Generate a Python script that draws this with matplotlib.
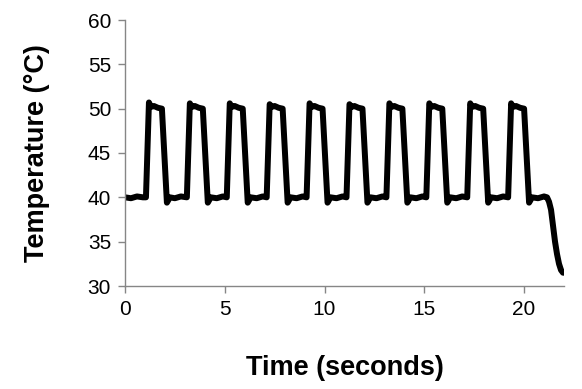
import matplotlib.pyplot as plt

plt.rcParams['font.family'] = ['Liberation Sans', 'DejaVu Sans']

# temperature trace (seconds, deg C)
time_s = [
    0.0, 0.3, 0.6, 0.9, 1.05,
    1.2, 1.3, 1.45, 1.65, 1.85, 2.1, 2.25, 2.5, 2.8, 3.1,
    3.25, 3.35, 3.5, 3.7, 3.9, 4.15, 4.3, 4.6, 4.9, 5.1,
    5.25, 5.35, 5.5, 5.7, 5.9, 6.15, 6.3, 6.6, 6.9, 7.1,
    7.25, 7.35, 7.5, 7.7, 7.9, 8.15, 8.3, 8.6, 8.9, 9.1,
    9.25, 9.35, 9.5, 9.7, 9.9, 10.15, 10.3, 10.6, 10.9, 11.1,
    11.25, 11.35, 11.5, 11.7, 11.9, 12.15, 12.3, 12.6, 12.9, 13.1,
    13.25, 13.35, 13.5, 13.7, 13.9, 14.15, 14.3, 14.6, 14.9, 15.1,
    15.25, 15.35, 15.5, 15.7, 15.9, 16.15, 16.3, 16.6, 16.9, 17.15,
    17.3, 17.4, 17.55, 17.75, 17.95, 18.2, 18.35, 18.65, 18.95, 19.2,
    19.35, 19.45, 19.6, 19.8, 20.0, 20.25, 20.4, 20.7, 21.0, 21.15,
    21.25, 21.35, 21.45, 21.55, 21.65, 21.75, 21.85, 21.95, 22.0,
]
temp_c = [
    40.0, 39.9, 40.1, 40.0, 40.0,
    50.7, 50.2, 50.3, 50.1, 50.0, 39.4, 40.0, 39.9, 40.1, 40.0,
    50.6, 50.2, 50.3, 50.1, 50.0, 39.4, 40.0, 39.9, 40.1, 40.0,
    50.6, 50.2, 50.3, 50.1, 50.0, 39.4, 40.0, 39.9, 40.1, 40.0,
    50.5, 50.2, 50.3, 50.1, 50.0, 39.4, 40.0, 39.9, 40.1, 40.0,
    50.6, 50.2, 50.3, 50.1, 50.0, 39.4, 40.0, 39.9, 40.1, 40.0,
    50.5, 50.2, 50.3, 50.1, 50.0, 39.4, 40.0, 39.9, 40.1, 40.0,
    50.6, 50.2, 50.3, 50.1, 50.0, 39.4, 40.0, 39.9, 40.1, 40.0,
    50.6, 50.2, 50.3, 50.1, 50.0, 39.4, 40.0, 39.9, 40.1, 40.0,
    50.6, 50.2, 50.3, 50.1, 50.0, 39.4, 40.0, 39.9, 40.1, 40.0,
    50.6, 50.2, 50.3, 50.1, 50.0, 39.4, 40.0, 39.9, 40.1, 40.0,
    39.5, 38.6, 36.8, 35.0, 33.6, 32.5, 31.8, 31.5, 31.5,
]

fig = plt.figure(figsize=(5.82, 3.89), dpi=100)
ax = fig.add_axes([125 / 582, 1 - 286 / 389, (564 - 125) / 582, (286 - 20) / 389])

ax.plot(time_s, temp_c, color='black', linewidth=4.3, solid_joinstyle='round')

ax.set_xlim(0, 22)
ax.set_ylim(30, 60)
ax.set_xticks([0, 5, 10, 15, 20])
ax.set_yticks([30, 35, 40, 45, 50, 55, 60])

for side in ['top', 'right']:
    ax.spines[side].set_visible(False)
for side in ['left', 'bottom']:
    ax.spines[side].set_color('#868686')
    ax.spines[side].set_linewidth(1.0)
ax.tick_params(direction='out', length=5, width=1.0, color='#868686',
               labelsize=15, labelcolor='black', pad=5)

ax.set_xlabel('Time (seconds)', fontsize=19.5, fontweight='bold', labelpad=26)
ax.set_ylabel('Temperature (°C)', fontsize=19.5, fontweight='bold', labelpad=27)

fig.savefig('out.png', dpi=100)
